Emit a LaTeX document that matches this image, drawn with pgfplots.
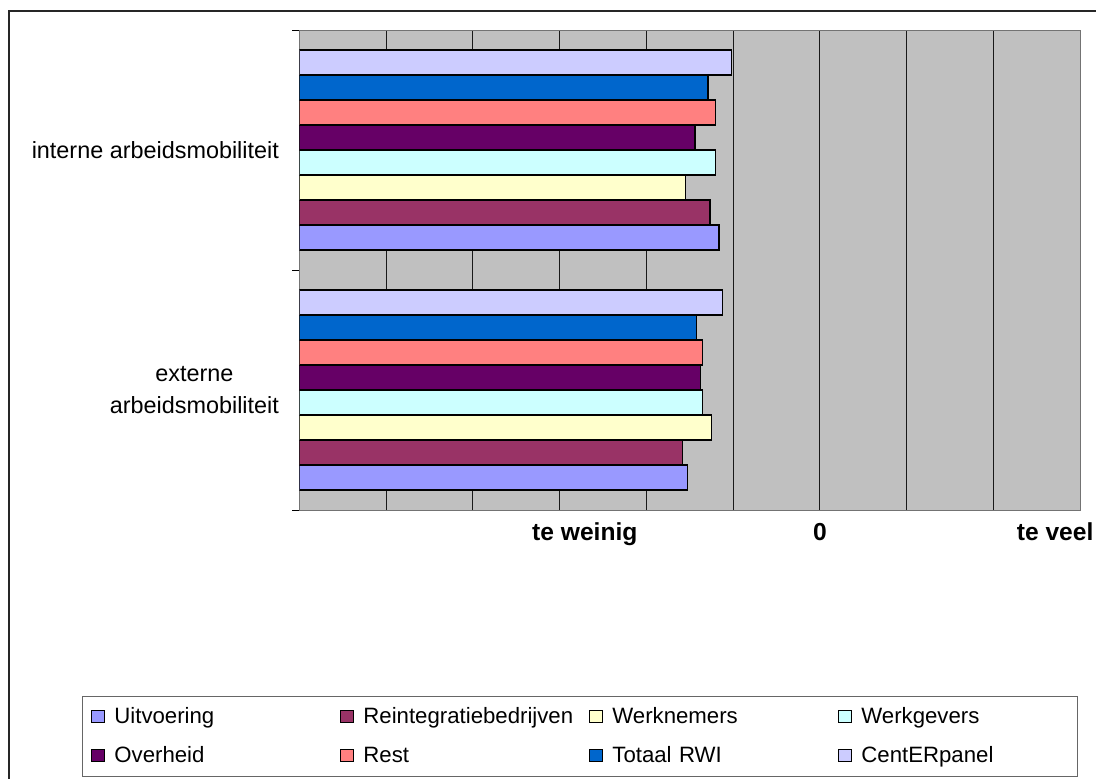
\documentclass[border=0pt]{standalone}
\usepackage{pgfplots}
\pgfplotsset{compat=1.18}
\usepackage{fontspec}
\setmainfont{Liberation Sans}

\definecolor{cUitv}{HTML}{9999FF}
\definecolor{cReint}{HTML}{993366}
\definecolor{cWerkn}{HTML}{FFFFCC}
\definecolor{cWerkg}{HTML}{CCFFFF}
\definecolor{cOverh}{HTML}{660066}
\definecolor{cRest}{HTML}{FF8080}
\definecolor{cTotaal}{HTML}{0066CC}
\definecolor{cCenter}{HTML}{CCCCFF}
\definecolor{plotgray}{HTML}{C0C0C0}

\pgfplotsset{
  sq/.style={
    fill=#1, draw=black, line width=0.6pt,
    legend image code/.code={\draw[fill=#1, draw=black, line width=0.5pt] (0pt,-3.3pt) rectangle (6.5pt,2.7pt);}
  }
}

\begin{document}
\begin{tikzpicture}
\useasboundingbox (0pt,0pt) rectangle (548pt,389pt);
\draw[black!85, line width=0.7pt] (4.5pt,-10pt) rectangle (560pt,383.5pt);

\begin{axis}[
    at={(149.65pt,134pt)}, anchor=south west,
    scale only axis,
    width=390.5pt, height=240pt,
    xmin=0, xmax=9,
    ymin=-0.5, ymax=1.5,
    xbar,
    bar width=12.5pt,
    axis background/.style={fill=plotgray},
    axis line style={black!55, line width=0.5pt},
    /pgf/number format/assume math mode=true,
    % x axis: scale shifted so that 6 is the "0"
    xtick={3.29,6,8.71},
    xticklabels={\textbf{te weinig},\textbf{0},\textbf{te veel}},
    xticklabel style={font=\fontsize{12.3}{14}\selectfont, anchor=base, yshift=-15pt},
    minor xtick={0,1,...,9},
    xminorgrids,
    minor grid style={black!90, line width=0.5pt},
    major tick length=0pt, minor tick length=0pt,
    % categories
    ytick={0,1},
    ytick pos=left,
    yticklabels={{externe\\arbeidsmobiliteit},{interne arbeidsmobiliteit}},
    yticklabel style={align=center, font=\fontsize{11.7}{15.8}\selectfont, inner xsep=0pt, xshift=-10pt},
    extra y ticks={-0.5,0.5,1.5},
    extra y tick labels={},
    extra y tick style={major tick length=3.5pt, tick align=outside, tick style={black, line width=0.5pt}, grid=none},
    legend columns=4,
    legend style={draw=none, fill=none, at={(-0.2667,-0.3885)}, anchor=north west,
      inner sep=0pt, column sep=0pt, font=\fontsize{11.1}{13}\selectfont,
      nodes={inner xsep=4.5pt, inner ysep=4.25pt, text width=108.5pt, align=left,
        text height=9pt, text depth=2pt}},
  ]
  \addplot[sq=cUitv, bar shift=-43.75pt] coordinates {(4.476,0) (4.836,1)};
  \addlegendentry{Uitvoering}
  \addplot[sq=cReint, bar shift=-31.25pt] coordinates {(4.413,0) (4.733,1)};
  \addlegendentry{Reintegratiebedrijven}
  \addplot[sq=cWerkn, bar shift=-18.75pt] coordinates {(4.752,0) (4.453,1)};
  \addlegendentry{Werknemers}
  \addplot[sq=cWerkg, bar shift=-6.25pt] coordinates {(4.644,0) (4.794,1)};
  \addlegendentry{Werkgevers}
  \addplot[sq=cOverh, bar shift=6.25pt] coordinates {(4.626,0) (4.560,1)};
  \addlegendentry{Overheid}
  \addplot[sq=cRest, bar shift=18.75pt] coordinates {(4.649,0) (4.794,1)};
  \addlegendentry{Rest}
  \addplot[sq=cTotaal, bar shift=31.25pt] coordinates {(4.579,0) (4.710,1)};
  \addlegendentry{Totaal RWI}
  \addplot[sq=cCenter, bar shift=43.75pt] coordinates {(4.879,0) (4.983,1)};
  \addlegendentry{CentERpanel}
\end{axis}

\draw[black!60, line width=0.5pt] (41pt,1pt) rectangle (538.5pt,41pt);
\end{tikzpicture}
\end{document}
